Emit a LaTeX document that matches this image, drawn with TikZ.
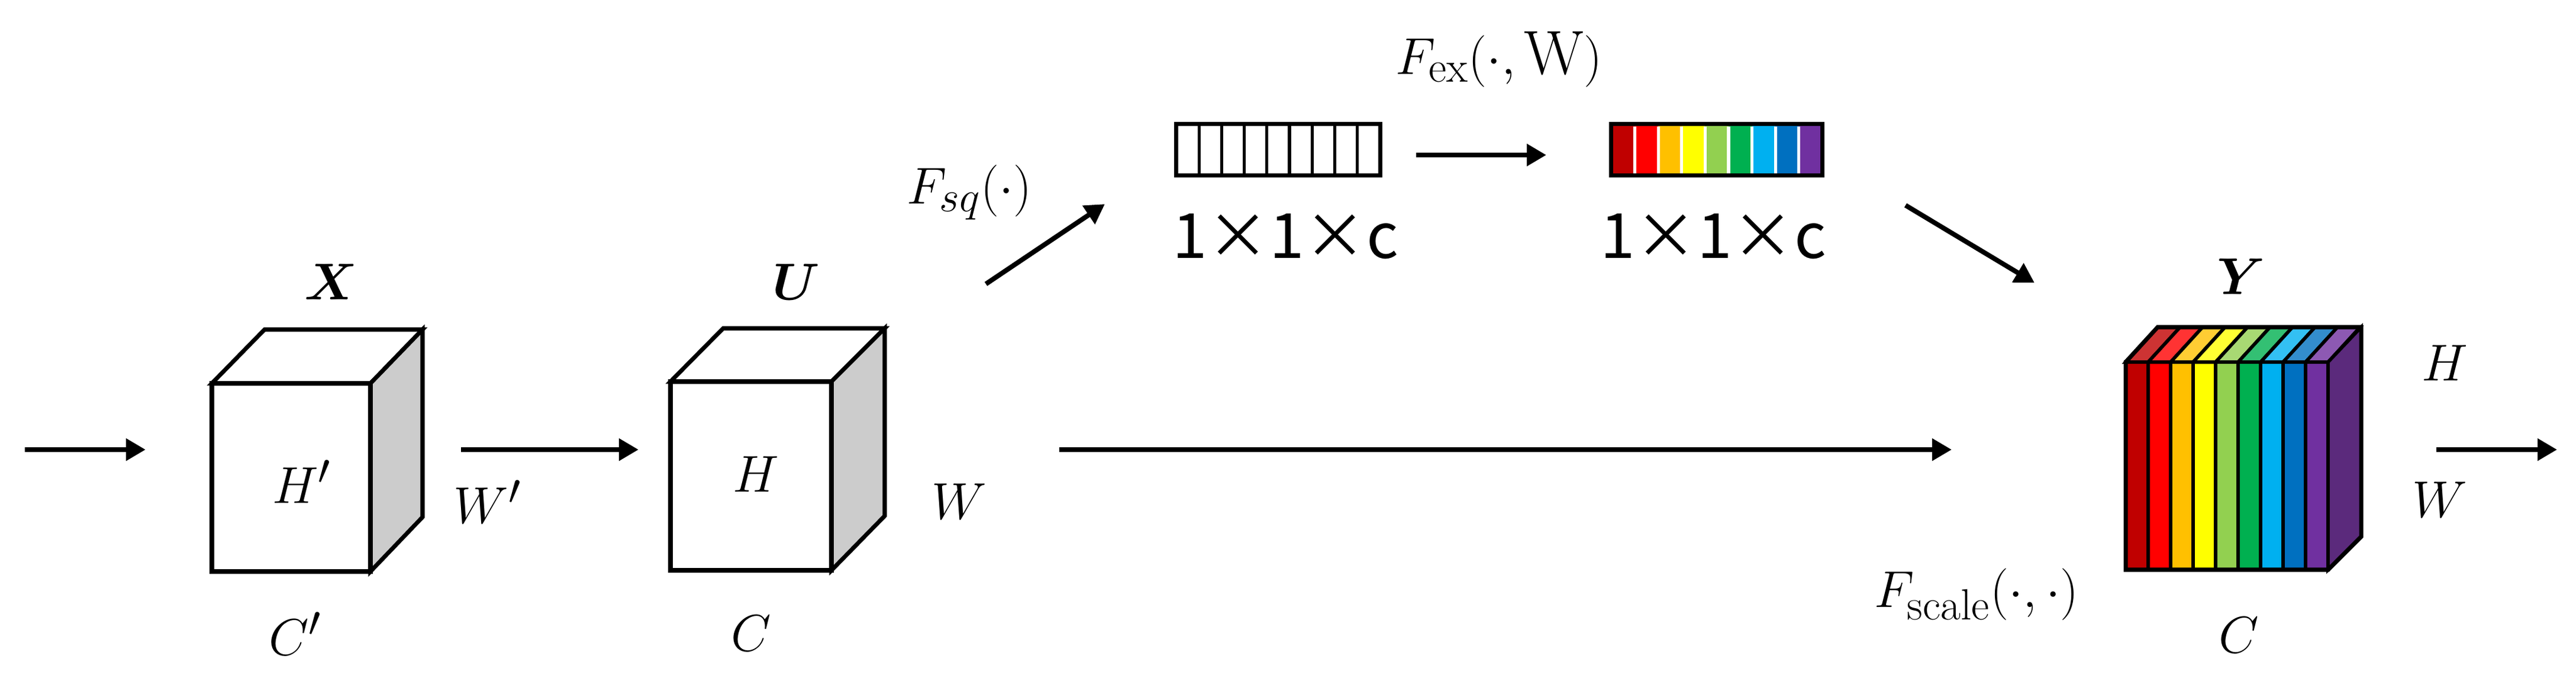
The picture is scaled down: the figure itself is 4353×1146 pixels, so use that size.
\documentclass[tikz,border=0pt]{standalone}
\usepackage{amsmath,bm}
\usepackage{fontspec}
\newfontfamily\sansf{Noto Sans CJK SC}
\usetikzlibrary{arrows.meta}
\definecolor{c1}{HTML}{C00000}\definecolor{c2}{HTML}{FF0000}\definecolor{c3}{HTML}{FFC000}
\definecolor{c4}{HTML}{FFFF00}\definecolor{c5}{HTML}{92D050}\definecolor{c6}{HTML}{00B050}
\definecolor{c7}{HTML}{00B0F0}\definecolor{c8}{HTML}{0070C0}\definecolor{c9}{HTML}{7030A0}
\definecolor{sidep}{HTML}{5B2A7C}
\begin{document}
\begin{tikzpicture}[x=0.01cm,y=-0.01cm,
  lbl/.style={font=\fontsize{30}{36}\selectfont, inner sep=0pt},
  sl/.style={font=\fontsize{30}{36}\selectfont\sansf, inner sep=0pt},
  arr/.style={line width=2.3pt,-{Triangle[length=0.33cm,width=0.36cm]}},
  edge/.style={line width=2pt, line join=miter}]
\useasboundingbox (0,0) rectangle (4353,1146);
% cube X
\filldraw[edge,fill=white] (358,648) -- (447,557) -- (714,557) -- (626,648) -- cycle;
\filldraw[edge,fill=black!20] (626,648) -- (714,557) -- (714,874) -- (626,966) -- cycle;
\filldraw[edge,fill=white] (358,648) rectangle (626,966);
% cube U
\filldraw[edge,fill=white] (1133,645) -- (1222,555) -- (1495,555) -- (1405,645) -- cycle;
\filldraw[edge,fill=black!20] (1405,645) -- (1495,555) -- (1495,872) -- (1405,964) -- cycle;
\filldraw[edge,fill=white] (1133,645) rectangle (1405,964);
% labels
\node[lbl] (lX) at (559,476) {$\bm{X}$};
\node[lbl] (lU) at (1345,476) {$\bm{U}$};
\node[lbl] (lH1) at (510,814) {$H'$};
\node[lbl] (lW1) at (824,848) {$W'$};
\node[lbl] (lH) at (1277,802) {$H$};
\node[lbl] (lW) at (1621,848) {$W$};
\node[lbl] (lC1) at (499,1071) {$C'$};
\node[lbl] (lC) at (1269,1071) {$C$};
% arrow coordinates
\coordinate (a0) at (42,760); \coordinate (a1) at (246,760);
\coordinate (b0) at (779,760); \coordinate (b1) at (1079,760);
\coordinate (c0) at (1790,760); \coordinate (c1) at (3298,760);
\coordinate (d0) at (1666,480); \coordinate (d1) at (1867,345);
\coordinate (e0) at (2393,262); \coordinate (e1) at (2613,262);
\coordinate (f0) at (3220,347); \coordinate (f1) at (3438,478);
\coordinate (g0) at (4117,760); \coordinate (g1) at (4321,760);
\foreach \s/\t in {a0/a1,b0/b1,c0/c1,d0/d1,e0/e1,f0/f1,g0/g1}
  \draw[arr] (\s) -- (\t);
% empty bar
\node[draw,line width=2pt,minimum width=3.44cm,minimum height=0.87cm,inner sep=0pt] (bar1) at (2160,253) {};
\foreach \i in {1,...,8} \draw[line width=1.5pt] (1988+\i*38.2,210) -- (1988+\i*38.2,297);
% colour bar
\foreach \i/\c in {0/c1,1/c2,2/c3,3/c4,4/c5,5/c6,6/c7,7/c8,8/c9}
  \fill[\c] (2723+\i*39.6,210) rectangle (2723+\i*39.6+39.6,297);
\foreach \i in {1,...,8} \draw[line width=1.5pt,white] (2723+\i*39.6,214) -- (2723+\i*39.6,293);
\node[draw,line width=2pt,minimum width=3.56cm,minimum height=0.87cm,inner sep=0pt] (bar2) at (2901,253) {};
\node[sl] (s1) at (2172,400) {1×1×c};
\node[sl] (s2) at (2895,400) {1×1×c};
\node[lbl] (fsq) at (1638,325) {$F_{sq}(\cdot)$};
\node[lbl] (fex) at (2533,100) {$F_{\mathrm{ex}}(\cdot,\mathrm{W})$};
% cube Y
\foreach \i/\c in {0/c1,1/c2,2/c3,3/c4,4/c5,5/c6,6/c7,7/c8,8/c9}{
  \filldraw[line width=1.6pt,fill=\c!80!white] (3592+\i*38,612) -- (3646+\i*38,553) -- (3684+\i*38,553) -- (3630+\i*38,612) -- cycle;
  \filldraw[line width=1.6pt,fill=\c] (3592+\i*38,612) rectangle (3630+\i*38,963);
}
\filldraw[line width=1.6pt,fill=sidep] (3934,612) -- (3990,553) -- (3990,907) -- (3934,963) -- cycle;
\draw[edge] (3592,612) -- (3646,553) -- (3990,553) -- (3990,907) -- (3934,963) -- (3592,963) -- cycle;
\node[lbl] (lY) at (3787,467) {$\bm{Y}$};
\node[lbl] (lHy) at (4131,614) {$H$};
\node[lbl] (lWy) at (4123,845) {$W$};
\node[lbl] (lCy) at (3783,1074) {$C$};
\node[lbl] (fsc) at (3340,1005) {$F_{\mathrm{scale}}(\cdot,\cdot)$};
\end{tikzpicture}
\end{document}
